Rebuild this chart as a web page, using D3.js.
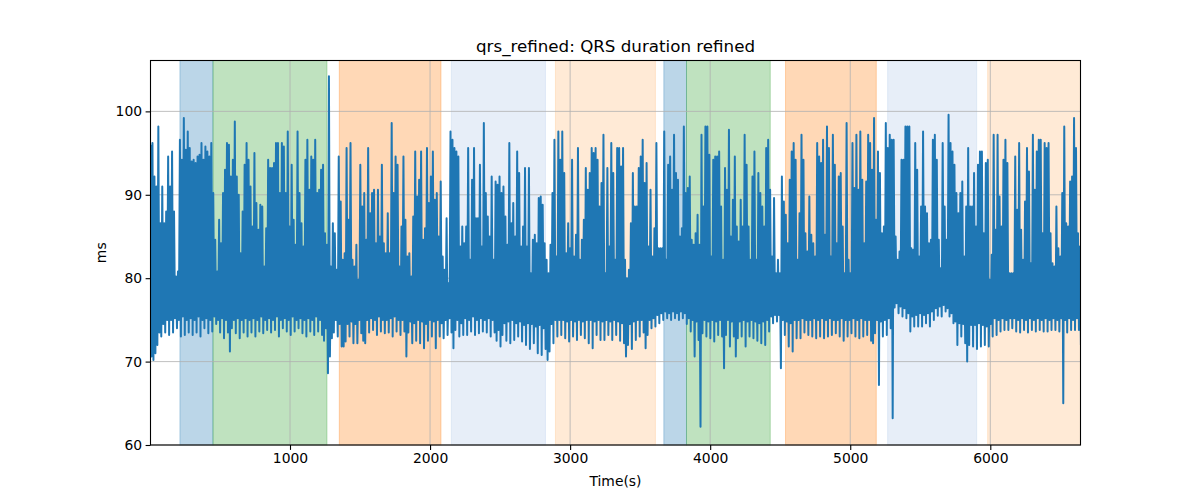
<!DOCTYPE html>
<html lang="en">
<head>
<meta charset="utf-8">
<title>qrs_refined</title>
<script src="https://cdn.jsdelivr.net/npm/d3@7"></script>
<style>
  body { margin: 0; background: #fff; }
  svg text { font-family: "DejaVu Sans", sans-serif; fill: #000; }
</style>
</head>
<body>
<div id="chart"></div>
<script>
  // peaks at t0 + 14*i seconds, troughs 7 s after each peak
  const t0 = 4, step = 7;

  // QRS duration peaks (ms), 10 per row = 140 s
  const peaks = [
    96, 96.2, 92.2, 91, 98.2, 86.6, 91, 86.6, 88, 94.6,
    91, 95.2, 88, 80.2, 80.8, 96.6, 94.2, 99.2, 95.4, 97.6,
    95.6, 94, 94.2, 93.8, 94.6, 94.8, 96.2, 94.2, 95.8, 95.2,
    94.6, 96.2, 90.2, 84.6, 80.8, 87, 84.2, 90.2, 93, 96.2,
    96, 92.2, 94.2, 98.8, 92.2, 90, 83, 88, 93.6, 96.2,
    94.2, 91, 86.2, 95, 89, 85.8, 88.8, 88.6, 81.4, 86,
    94.2, 93.2, 93.2, 93.8, 96.2, 96.2, 90.2, 96.2, 95.8, 90.2,
    97.6, 86.2, 93.6, 87, 84, 97.6, 90.2, 86.6, 83.8, 94.2,
    96.6, 90.6, 94.6, 94.2, 96.6, 90.2, 90.6, 93, 93.6, 85.4,
    84, 104.2, 81.4, 86.6, 85.4, 81, 94.6, 89.2, 82.2, 83,
    95.6, 87, 96.2, 82.2, 81.4, 84, 79.8, 93.6, 88.6, 90.2,
    84.6, 95.6, 87.8, 90.2, 90.6, 84.2, 90.6, 85, 93.6, 84.2,
    83, 87.8, 83, 98.6, 90.2, 94.6, 93.6, 81.4, 86.2, 94.6,
    87, 82.6, 83, 80.2, 87.4, 95.2, 89.8, 91.8, 95.2, 84.6,
    86, 95.6, 89, 92.2, 95.2, 89.4, 90.2, 85, 91.6, 82.6,
    81, 87.2, 79.4, 97.6, 96.6, 95.6, 95.2, 94.6, 83.8, 86.2,
    84.2, 86.2, 95.6, 82.2, 91.8, 95.6, 87.2, 87.2, 93.6, 83.8,
    98.6, 90.2, 87.4, 85, 92.2, 82.2, 91.6, 91.2, 92.2, 90.2,
    91, 87.4, 84, 96.2, 86.6, 89, 85, 95.2, 92.6, 83.8,
    86.2, 93.2, 83.8, 93.2, 80.6, 84.6, 85.2, 84.2, 89.6, 89.8,
    88.8, 84.2, 82.2, 80.6, 84, 90.2, 96.6, 82.6, 97.6, 94.2,
    97.6, 92.6, 83, 86.6, 83.6, 94.2, 82.6, 85.2, 95.6, 82.2,
    84.6, 87, 93.2, 90.6, 92.6, 95.6, 95, 95.6, 94.2, 88.6,
    91.4, 97.2, 80.6, 93.2, 83.8, 96.2, 92.6, 82.2, 95.6, 95.6,
    93.4, 95.6, 82.2, 80, 81, 86.6, 92.6, 88.6, 88.6, 93.2,
    94.6, 96.6, 91.4, 93.8, 83.8, 90.6, 82.6, 86, 96.2, 83.6,
    83.6, 83.6, 97.6, 82.2, 93.6, 94.6, 90.6, 97.2, 92.6, 91.8,
    85, 86, 98.2, 90.2, 90.8, 92.2, 84.6, 84, 85.4, 87.6,
    84, 97.2, 88.6, 98.2, 98.2, 94.8, 82.6, 94.2, 94.6, 94.6,
    95.2, 88.6, 82.2, 93.2, 90.6, 97.8, 85, 89.4, 94.6, 86.2,
    84.4, 89.4, 86.2, 97.2, 93.6, 86.2, 82.2, 92.2, 95.2, 82.2,
    92.6, 90.2, 88.6, 86.2, 95.6, 96.6, 90.6, 82.6, 89.6, 80.6,
    82.2, 80.6, 92.2, 89.2, 87.6, 84.2, 91.8, 95.2, 96.2, 94.2,
    82.2, 87.8, 97.2, 94.2, 85.4, 83.2, 89.8, 85.2, 84.2, 82.6,
    96.2, 94.6, 93.8, 96.6, 85.2, 98.2, 95.6, 82.6, 97.2, 93.6,
    84.2, 92.2, 92.6, 86.2, 80.6, 98.6, 82.2, 80.6, 96.2, 90.8,
    97.2, 90.6, 97.6, 91.8, 84.2, 91.6, 97.2, 96.2, 93, 99.2,
    87, 95.2, 92.6, 85.4, 86.2, 98.6, 95.6, 97.2, 96.6, 96.6,
    85, 82.2, 83.2, 94.2, 94.2, 98.2, 98.2, 98.2, 83.6, 83.4,
    96.2, 93, 82.6, 88.6, 97.6, 88.6, 87.8, 84.2, 84.6, 96.6,
    97.2, 94.2, 84.6, 81.2, 96.2, 88.6, 84.6, 99.6, 96.2, 95.2,
    93.6, 90.2, 87.8, 90.2, 91.6, 82.6, 88.6, 95.6, 88.6, 88.6,
    92.6, 86.2, 93.6, 95.2, 95.2, 85.4, 93.8, 94.2, 79.8, 82.8,
    97.2, 85.8, 97.2, 89.8, 86.2, 94.2, 96.6, 93.8, 80.6, 80.6,
    80.6, 94.6, 88.2, 96.2, 85.8, 82.2, 89.2, 95.6, 92.8, 81.8,
    97.2, 90.6, 95.2, 96.6, 96.6, 85.4, 96.2, 95.6, 96.2, 85.4,
    81.8, 81.4, 88.6, 83.6, 82.6, 90.2, 98.2, 86.6, 86.2, 91.6,
    92.2, 99.2, 95.6, 85.4, 83.8
  ];

  // troughs (ms) between the peaks, same rows
  const troughs = [
    70.6, 70.2, 71, 72, 73.5, 73, 74.5, 73.5, 75, 73.2,
    75, 73.5, 75.2, 74, 75, 73, 75.4, 73.2, 75, 73.5,
    75.2, 73.2, 75, 73.5, 75.4, 73, 75, 74, 75.2, 73.4,
    75, 73.6, 75.4, 74.5, 75, 73.5, 75.2, 72.8, 75, 73.5,
    71.2, 74, 75, 73.4, 75.2, 72.8, 75, 73.5, 75.2, 73,
    75, 73.5, 75.2, 73, 75, 73.6, 75.4, 73.4, 75, 73.8,
    75.2, 73.5, 75, 73.8, 75.4, 73, 75, 74, 75.2, 73.6,
    75, 73.2, 75.4, 73.6, 75, 74, 75.2, 73.4, 75, 73,
    75.2, 73.6, 75, 73.2, 75.4, 73.6, 75, 73.2, 72.5, 74,
    68.6, 70.6, 72.8, 73.5, 75, 73, 74.5, 71.8, 71.8, 72.4,
    74.5, 73, 74.8, 72.2, 74.5, 72.2, 75, 73.4, 72.5, 72.2,
    75, 73.5, 75.2, 73.8, 75, 73.2, 75.4, 73.6, 75, 73.4,
    75, 73.5, 75.2, 73, 75.4, 73.6, 75, 73.2, 75, 73.6,
    70.6, 73.5, 74.8, 72.2, 74.6, 72.5, 75, 72.2, 74.8, 71.6,
    74.5, 72.5, 75, 73, 74.8, 71.6, 75, 73, 74.6, 72.8,
    75, 73.2, 75.2, 73.5, 71.6, 73.8, 75, 73, 74.6, 73.2,
    75.2, 73.2, 75, 73.6, 75.4, 73.2, 75, 73.4, 75.2, 73.6,
    75, 73.5, 75.2, 73, 75, 73.5, 72.5, 73.8, 71.8, 73.2,
    74.6, 72.5, 74.8, 72.2, 75, 72.6, 74.6, 73, 74.8, 72.4,
    74.4, 72, 74.6, 71.5, 74.5, 72.2, 74.2, 71, 74.4, 70.8,
    74, 71.5, 70.2, 71.2, 74.5, 72.2, 75, 73, 75, 73.2,
    75, 72.8, 74.8, 72.4, 75, 73, 74.8, 72.6, 75, 73.2,
    74.8, 72.8, 75, 72.2, 75, 71.6, 74.8, 73.2, 75, 72.6,
    74.8, 72.6, 75, 73.2, 74.8, 72.6, 75, 73.2, 74.8, 72.5,
    74.6, 72.2, 70.6, 72, 74.5, 71.5, 74.8, 72.6, 75, 73,
    75, 73.5, 71.6, 73.2, 75, 74, 75.2, 74.2, 75.6, 74.6,
    75.8, 75, 76, 75.2, 75.8, 75, 76, 75.2, 75.8, 75,
    76, 75.2, 75.8, 74.5, 75.2, 73.6, 75, 70.6, 74.8, 72.6,
    62.2, 73.4, 75, 73, 74.8, 72.8, 75, 72.4, 74.8, 73.2,
    75, 73, 69.2, 73.2, 75, 71.8, 74.8, 73, 70.6, 72.8,
    74.8, 73, 75, 71.8, 74.8, 73, 75, 72.8, 74.8, 72.5,
    74.6, 72.2, 74.8, 72, 75, 73.6, 75.4, 74.6, 75.6, 74.8,
    75.6, 69.2, 75, 73.2, 74.8, 71.8, 74.6, 71.2, 75, 72.8,
    75, 72.8, 75.2, 73.5, 75, 73.2, 75, 73, 75.2, 72.8,
    75, 73, 75.2, 72.8, 75, 73, 75.2, 73.2, 75, 73.4,
    75, 73, 75.2, 72.5, 75, 73, 75, 73.4, 75.2, 73,
    75, 72.8, 75.2, 73, 75, 73.2, 75, 72.5, 72.2, 73.4,
    75, 67.2, 74.8, 73, 75, 73.2, 75.2, 74, 63.2, 76.5,
    77, 75.8, 76.6, 75.4, 76.4, 75.2, 75.8, 73.6, 75.4, 74.2,
    75.6, 74.2, 75.8, 74.2, 75.6, 74.6, 75.8, 74.2, 76, 75,
    76.4, 75.5, 76.6, 75.4, 76.8, 76, 76.4, 75.4, 75.8, 74.6,
    74.8, 72, 74.6, 73, 74.5, 72.2, 70, 72, 74.4, 71.8,
    74.4, 71.5, 74.6, 71.8, 74.4, 72, 74.2, 71.8, 74.5, 73,
    75.2, 73.2, 75, 73.6, 75.2, 73.8, 75, 73.8, 75.2, 74,
    75.2, 73.6, 75, 73.5, 75.2, 73.8, 75, 73.5, 75.2, 73.8,
    75, 73.6, 75.2, 73.8, 75, 73.6, 75.2, 73.6, 75, 73.8,
    75.2, 73.8, 75, 73.6, 75.2, 65, 75, 73.5, 75.2, 73.8,
    75, 73.8, 75.2, 73.8, 72
  ];

  // shaded stages: start, end (s) and colour
  const spanStart = [214, 450, 1352, 2152, 2895, 3669, 3831, 4538, 5267, 5981];
  const spanEnd   = [450, 1264, 2078, 2824, 3609, 3831, 4429, 5186, 5903, 6644];
  const spanColor = ['#1f77b4', '#2ca02c', '#ff7f0e', '#aec7e8', '#ffbb78',
                     '#1f77b4', '#2ca02c', '#ff7f0e', '#aec7e8', '#ffbb78'];

  const xTicks = [1000, 2000, 3000, 4000, 5000, 6000];
  const yTicks = [60, 70, 80, 90, 100];
  const xDomain = [4, 6644], yDomain = [60, 106.1];

  const width = 1200, height = 500, margin = { top: 60.5, right: 119.5, bottom: 55, left: 150.5 };
  const chartWidth = width - margin.left - margin.right, chartHeight = height - margin.top - margin.bottom;

  // one sample list: peak, trough, peak, trough ...
  const data = [];
  peaks.forEach((p, i) => {
    data.push({ t: t0 + 2 * i * step, v: p });
    data.push({ t: t0 + (2 * i + 1) * step, v: troughs[i] });
  });

  const svg = d3.select('#chart').append('svg').attr('width', width).attr('height', height);
  const g = svg.append('g').attr('transform', `translate(${margin.left},${margin.top})`);

  const x = d3.scaleLinear().domain(xDomain).range([0, chartWidth]);
  const y = d3.scaleLinear().domain(yDomain).range([chartHeight, 0]);

  // spans
  g.append('g').selectAll('rect').data(spanStart).join('rect')
    .attr('x', (d) => x(d))
    .attr('y', 0)
    .attr('width', (d, i) => x(Math.min(spanEnd[i], xDomain[1])) - x(d))
    .attr('height', chartHeight)
    .attr('fill', (d, i) => spanColor[i])
    .attr('fill-opacity', 0.3)
    .attr('stroke', (d, i) => spanColor[i])
    .attr('stroke-opacity', 0.3)
    .attr('stroke-width', 1);

  // grid
  const grid = g.append('g');
  grid.selectAll('line.gx').data(xTicks).join('line').attr('class', 'gx')
    .attr('x1', (d) => x(d)).attr('x2', (d) => x(d))
    .attr('y1', 0).attr('y2', chartHeight);
  grid.selectAll('line.gy').data(yTicks).join('line').attr('class', 'gy')
    .attr('y1', (d) => y(d)).attr('y2', (d) => y(d))
    .attr('x1', 0).attr('x2', chartWidth);
  grid.selectAll('line').attr('stroke', '#b0b0b0').attr('stroke-width', 0.8);

  // the series
  svg.append('clipPath').attr('id', 'clip').append('rect')
    .attr('width', chartWidth).attr('height', chartHeight);
  g.append('path')
    .datum(data)
    .attr('clip-path', 'url(#clip)')
    .attr('fill', 'none')
    .attr('stroke', '#1f77b4')
    .attr('stroke-width', 2)
    .attr('stroke-linejoin', 'round')
    .attr('d', d3.line().x((d) => x(d.t)).y((d) => y(d.v)));

  // axes
  const xAxis = g.append('g').attr('transform', `translate(0,${chartHeight})`)
    .call(d3.axisBottom(x).tickValues(xTicks).tickFormat(d3.format('d')).tickSize(4.9).tickPadding(3.5));
  const yAxis = g.append('g')
    .call(d3.axisLeft(y).tickValues(yTicks).tickSize(4.9).tickPadding(3.5));
  [xAxis, yAxis].forEach((a) => {
    a.select('.domain').remove();
    a.selectAll('line').attr('stroke', '#000').attr('stroke-width', 1.1);
    a.selectAll('text').attr('font-size', 13.9).attr('font-family', '"DejaVu Sans", sans-serif');
  });

  // frame
  g.append('rect').attr('width', chartWidth).attr('height', chartHeight)
    .attr('fill', 'none').attr('stroke', '#000').attr('stroke-width', 1.1);

  // labels
  svg.append('text').attr('x', margin.left + chartWidth / 2).attr('y', margin.top - 8.5)
    .attr('text-anchor', 'middle').attr('font-size', 16.7).text('qrs_refined: QRS duration refined');
  svg.append('text').attr('x', margin.left + chartWidth / 2).attr('y', 486)
    .attr('text-anchor', 'middle').attr('font-size', 13.9).text('Time(s)');
  svg.append('text').attr('transform', `translate(106,${margin.top + chartHeight / 2}) rotate(-90)`)
    .attr('text-anchor', 'middle').attr('font-size', 13.9).text('ms');
</script>
</body>
</html>
